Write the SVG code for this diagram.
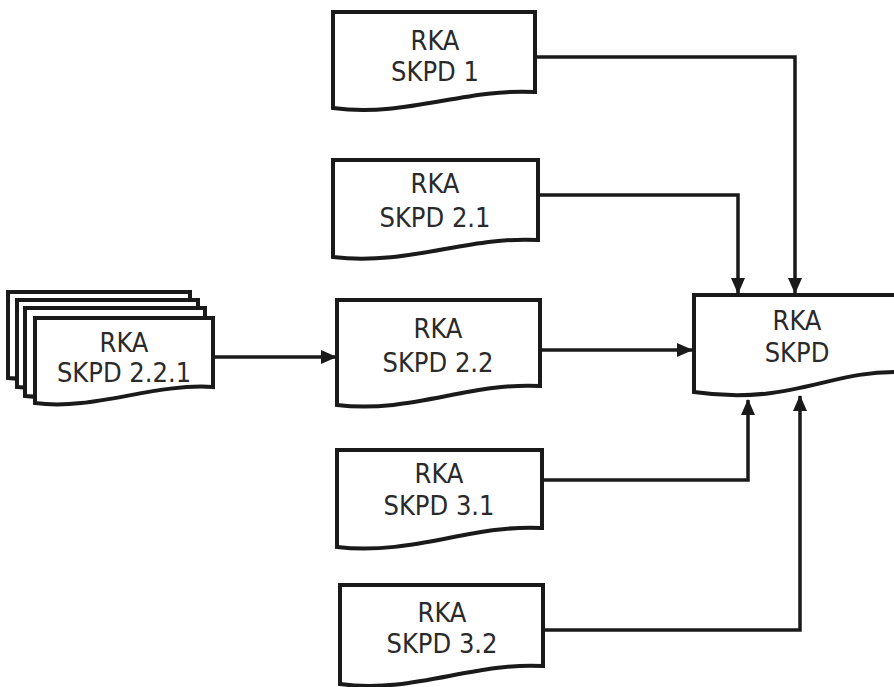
<svg xmlns="http://www.w3.org/2000/svg" width="894" height="687" viewBox="0 0 894 687">
<defs>
<style>
.doc{fill:#fff;stroke:#1a1a1a;stroke-width:4;stroke-linejoin:miter}
.lbl{font-family:'DejaVu Sans Condensed','DejaVu Sans',sans-serif;font-stretch:condensed;font-size:27px;fill:#2a2a2a;text-anchor:middle}
.con{fill:none;stroke:#1a1a1a;stroke-width:3.5}
</style>
<marker id="ah" viewBox="0 0 16 14" refX="15" refY="7" markerWidth="16" markerHeight="14" markerUnits="userSpaceOnUse" orient="auto">
<path d="M0,0 L16,7 L0,14 Z" fill="#1a1a1a"/>
</marker>
</defs>
<rect width="894" height="687" fill="#fff"/>
<g id="connectors">
<path class="con" d="M535,57 H795 V293" marker-end="url(#ah)"/>
<path class="con" d="M538,195 H738 V293" marker-end="url(#ah)"/>
<path class="con" d="M540,350 H692" marker-end="url(#ah)"/>
<path class="con" d="M213,357 H336" marker-end="url(#ah)"/>
<path class="con" d="M542,480 H748 V400" marker-end="url(#ah)"/>
<path class="con" d="M543,630 H800 V396" marker-end="url(#ah)"/>
</g>
<g id="rka-skpd-1">
<path class="doc" d="M333,12 H535 V92 C465,88 405,118 333,108 Z"/>
<text class="lbl" x="435" y="50">RKA</text>
<text class="lbl" x="435" y="81">SKPD 1</text>
</g>
<g id="rka-skpd-2-1">
<path class="doc" d="M333,160 H538 V240 C468,236 408,266 333,257 Z"/>
<text class="lbl" x="435" y="193">RKA</text>
<text class="lbl" x="435" y="227">SKPD 2.1</text>
</g>
<g id="rka-skpd-2-2">
<path class="doc" d="M337,300 H540 V386 C470,382 410,414 337,405 Z"/>
<text class="lbl" x="438" y="338">RKA</text>
<text class="lbl" x="438" y="372">SKPD 2.2</text>
</g>
<g id="rka-skpd-3-1">
<path class="doc" d="M337,450 H542 V528 C472,524 412,556 337,547 Z"/>
<text class="lbl" x="439" y="483">RKA</text>
<text class="lbl" x="439" y="515">SKPD 3.1</text>
</g>
<g id="rka-skpd-3-2">
<path class="doc" d="M340,585 H543 V666 C473,662 413,694 340,684 Z"/>
<text class="lbl" x="442" y="622">RKA</text>
<text class="lbl" x="442" y="653">SKPD 3.2</text>
</g>
<g id="rka-skpd-2-2-1">
<path class="doc" d="M8,292 H190 V360 C130,356 70,384 8,378 Z"/>
<path class="doc" d="M17,300 H198 V368 C138,364 78,392 17,387 Z"/>
<path class="doc" d="M25,308 H205 V378 C145,374 85,402 25,396 Z"/>
<path class="doc" d="M35,318 H213 V387 C153,383 93,411 35,403 Z"/>
<text class="lbl" x="124" y="352">RKA</text>
<text class="lbl" x="124" y="382">SKPD 2.2.1</text>
</g>
<g id="rka-skpd">
<path class="doc" d="M694,295 H900 V372 C830,370 790,406 694,392 Z"/>
<text class="lbl" x="797" y="330">RKA</text>
<text class="lbl" x="797" y="362">SKPD</text>
</g>
</svg>
